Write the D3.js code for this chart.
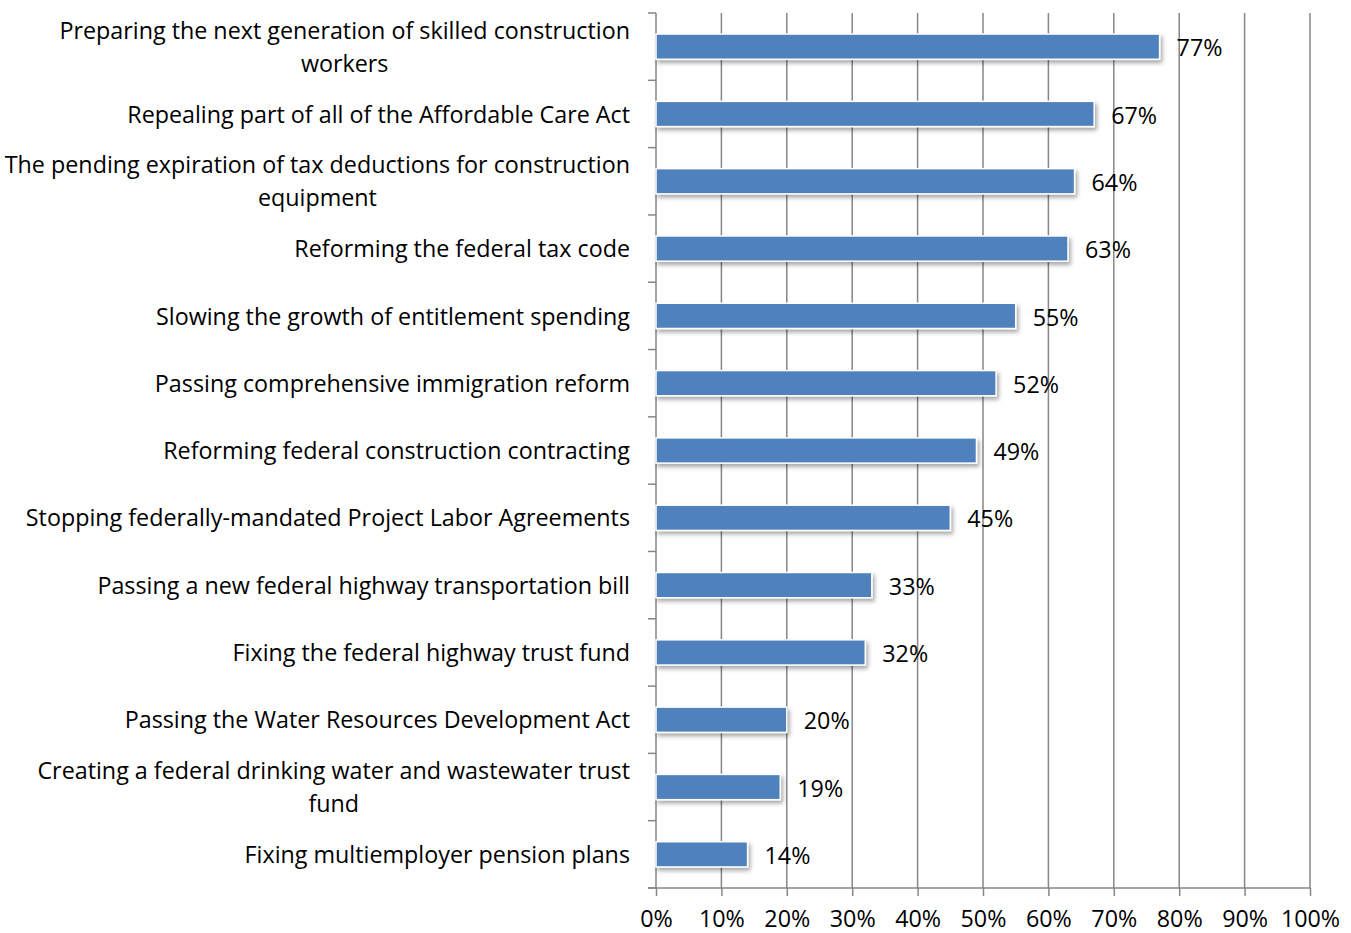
<!DOCTYPE html>
<html>
<head>
<meta charset="utf-8">
<script src="https://cdn.jsdelivr.net/npm/d3@7"></script>
<style>
  html, body { margin: 0; padding: 0; background: #fff; }
  svg text { font-family: "Open Sans", "DejaVu Sans", sans-serif; fill: #000; }
</style>
</head>
<body>
<svg id="chart" width="1351" height="933"></svg>
<script>
// Survey items, top to bottom (\n marks a wrapped line)
const categories = [
  "Preparing the next generation of skilled construction\nworkers",
  "Repealing part of all of the Affordable Care Act",
  "The pending expiration of tax deductions for construction\nequipment",
  "Reforming the federal tax code",
  "Slowing the growth of entitlement spending",
  "Passing comprehensive immigration reform",
  "Reforming federal construction contracting",
  "Stopping federally-mandated Project Labor Agreements",
  "Passing a new federal highway transportation bill",
  "Fixing the federal highway trust fund",
  "Passing the Water Resources Development Act",
  "Creating a federal drinking water and wastewater trust\nfund",
  "Fixing multiemployer pension plans"
];
const values = [0.77, 0.67, 0.64, 0.63, 0.55, 0.52, 0.49, 0.45, 0.33, 0.32, 0.20, 0.19, 0.14];
const xTicks = [0, 0.1, 0.2, 0.3, 0.4, 0.5, 0.6, 0.7, 0.8, 0.9, 1.0];

(function () {
const svg = d3.select("#chart");
const plotLeft = 656, plotRight = 1310, plotTop = 13, plotBottom = 888;
const gridColor = "#868686";
const fontSize = 23.3;

const x = d3.scaleLinear().domain([0, 1]).range([plotLeft, plotRight]);
const y = d3.scaleBand().domain(d3.range(categories.length)).range([plotTop, plotBottom]).padding(0);
const barH = y.bandwidth() * 0.375;
const pct = d3.format(".0%");

// drop shadow for bars
const defs = svg.append("defs");
const f = defs.append("filter").attr("id", "shadow")
  .attr("x", "-5%").attr("y", "-30%").attr("width", "115%").attr("height", "180%");
f.append("feDropShadow").attr("dx", 2).attr("dy", 3).attr("stdDeviation", 2)
  .attr("flood-color", "#000").attr("flood-opacity", 0.35);

// vertical gridlines
svg.append("g").selectAll("line").data(xTicks.slice(1)).join("line")
  .attr("x1", d => x(d)).attr("x2", d => x(d))
  .attr("y1", plotTop).attr("y2", plotBottom)
  .attr("stroke", gridColor).attr("stroke-width", 1.5);

// x axis
const xAxis = svg.append("g").attr("transform", `translate(0,${plotBottom})`)
  .call(d3.axisBottom(x).tickValues(xTicks).tickFormat(pct).tickSize(8).tickPadding(14));
xAxis.select(".domain").remove();
xAxis.selectAll(".tick line").attr("stroke", gridColor).attr("stroke-width", 1.5);
xAxis.selectAll(".tick text").attr("font-size", fontSize).attr("font-family", null);
svg.append("line").attr("x1", plotLeft - 8).attr("x2", plotRight)
  .attr("y1", plotBottom).attr("y2", plotBottom)
  .attr("stroke", gridColor).attr("stroke-width", 1.5);

// y axis line with ticks at category boundaries
svg.append("line").attr("x1", plotLeft).attr("x2", plotLeft)
  .attr("y1", plotTop).attr("y2", plotBottom)
  .attr("stroke", gridColor).attr("stroke-width", 1.5);
const bounds = d3.range(categories.length).map(i => y(i)).concat([plotBottom]);
svg.append("g").selectAll("line").data(bounds).join("line")
  .attr("x1", plotLeft - 8).attr("x2", plotLeft)
  .attr("y1", d => d).attr("y2", d => d)
  .attr("stroke", gridColor).attr("stroke-width", 1.5);

// bars
svg.append("g").selectAll("rect").data(values).join("rect")
  .attr("x", x(0))
  .attr("y", (d, i) => y(i) + (y.bandwidth() - barH) / 2)
  .attr("width", d => x(d) - x(0))
  .attr("height", barH)
  .attr("fill", "#4F81BD")
  .attr("stroke", "#fff").attr("stroke-width", 1.5)
  .attr("filter", "url(#shadow)");

// value labels
svg.append("g").selectAll("text").data(values).join("text")
  .attr("x", d => x(d) + 17)
  .attr("y", (d, i) => y(i) + y.bandwidth() / 2 + 1.5)
  .attr("dy", "0.35em")
  .attr("font-size", fontSize)
  .text(d => pct(d));

// category labels, multi-line ones centred on their longest line
const lineGap = 33;
categories.forEach((c, i) => {
  const lines = c.split("\n");
  const cy = y(i) + y.bandwidth() / 2 + 0.5;
  const g = svg.append("g");
  const texts = lines.map((ln, k) => g.append("text")
    .attr("y", cy + (k - (lines.length - 1) / 2) * lineGap)
    .attr("dy", "0.35em")
    .attr("font-size", fontSize)
    .text(ln));
  if (lines.length === 1) {
    texts[0].attr("x", 630).attr("text-anchor", "end");
  } else {
    const w = d3.max(texts, t => t.node().getComputedTextLength());
    const cx = 630 - w / 2;
    texts.forEach(t => t.attr("x", cx).attr("text-anchor", "middle"));
  }
});
})();
</script>
</body>
</html>
